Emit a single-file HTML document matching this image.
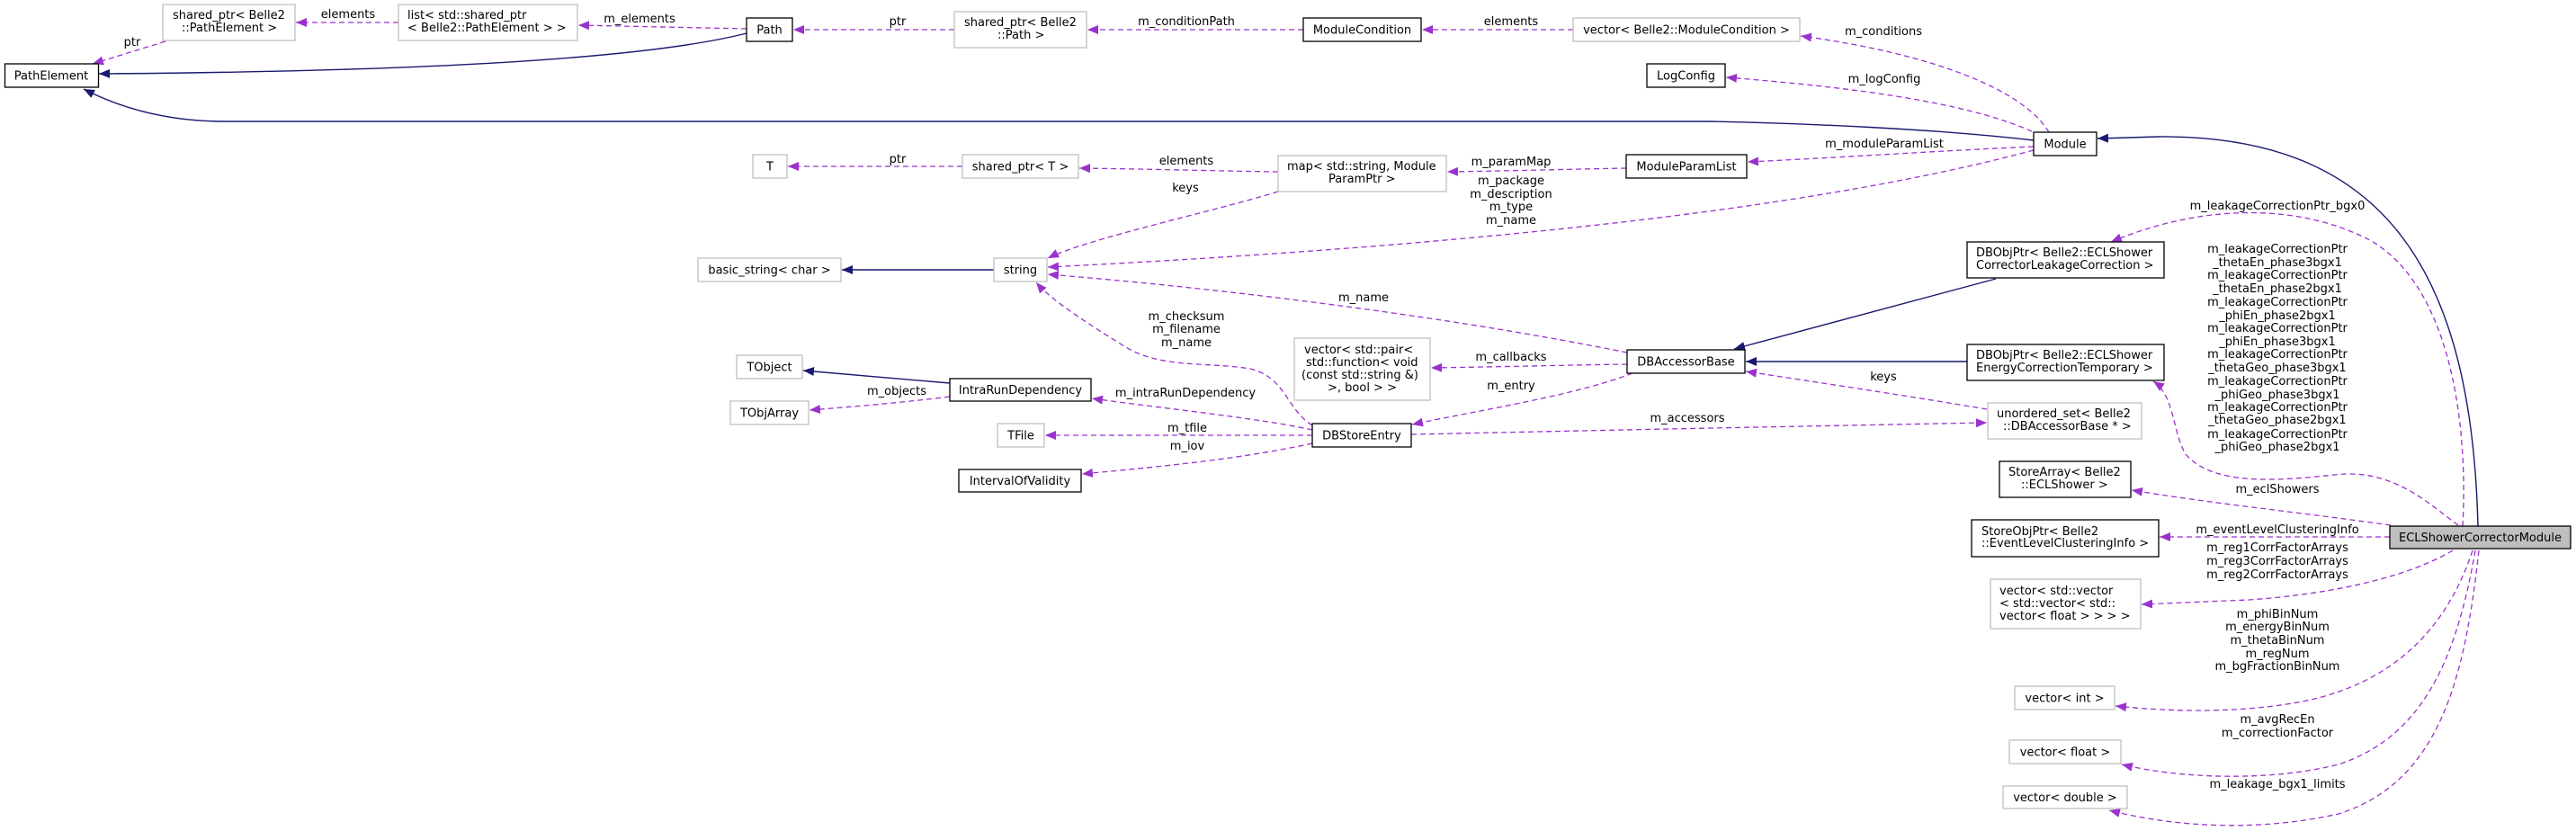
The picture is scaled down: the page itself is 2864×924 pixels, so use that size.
<!DOCTYPE html>
<html><head><meta charset="utf-8"><style>
html,body{margin:0;padding:0;background:#fff}
svg{display:block}
text{font-family:"DejaVu Sans","Liberation Sans",sans-serif;font-size:13px;fill:#000}
.g{fill:#fff;stroke:#bfbfbf;stroke-width:1.3}
.b{fill:#fff;stroke:#000;stroke-width:1.3}
.d{fill:none;stroke:#9a32cd;stroke-width:1.3;stroke-dasharray:6,4;marker-end:url(#ap)}
.s{fill:none;stroke:#191970;stroke-width:1.4;marker-end:url(#an)}
.c{text-anchor:middle}
</style></head><body>
<svg width="2864" height="924" viewBox="0 0 2864 924" xmlns="http://www.w3.org/2000/svg">
<defs>
<marker id="ap" markerUnits="userSpaceOnUse" markerWidth="14" markerHeight="12" refX="12" refY="5" orient="auto"><path d="M0,0 L12,5 L0,10 z" fill="#9a32cd"/></marker>
<marker id="an" markerUnits="userSpaceOnUse" markerWidth="14" markerHeight="12" refX="12" refY="5" orient="auto"><path d="M0,0 L12,5 L0,10 z" fill="#191970"/></marker>
</defs>

<!-- edges: inheritance -->
<path class="s" d="M830,37 C700,70 400,80 110,82"/>
<path class="s" d="M2261,156 C2150,143 2000,137 1900,135 L250,135 C180,135 130,118 93,99"/>
<path class="s" d="M2755,585 C2748,300 2650,150 2400,152 L2332,154"/>
<path class="s" d="M2219,310 L1928,388"/>
<path class="s" d="M2187,402 L1941,402"/>
<path class="s" d="M1105,300 L936,300"/>
<path class="s" d="M1056,426 L893,412"/>

<!-- edges: dependencies -->
<path class="d" d="M184,46 L103,71"/>
<path class="d" d="M443,25 L329,25"/>
<path class="d" d="M830,32 L643,28"/>
<path class="d" d="M1061,33 L882,33"/>
<path class="d" d="M1449,33 L1209,33"/>
<path class="d" d="M1749,33 L1581,33"/>
<path class="d" d="M2278,147 C2250,100 2150,60 2002,40"/>
<path class="d" d="M2259,146 C2200,120 2100,100 1919,86"/>
<path class="d" d="M2261,163 C2150,168 2050,175 1943,180"/>
<path class="d" d="M1808,187 C1750,188 1680,190 1609,191"/>
<path class="d" d="M1421,191 C1350,190 1280,188 1200,187"/>
<path class="d" d="M1070,185 L876,185"/>
<path class="d" d="M1421,213 C1350,235 1210,265 1165,287"/>
<path class="d" d="M2261,167 C2100,210 1800,265 1165,297"/>
<path class="d" d="M1809,392 C1600,350 1350,320 1165,305"/>
<path class="d" d="M1459,473 C1430,455 1430,420 1390,410 C1340,402 1290,410 1250,385 C1210,360 1170,335 1152,314"/>
<path class="d" d="M1809,405 C1740,406 1660,408 1591,409"/>
<path class="d" d="M1815,415 C1750,440 1650,455 1570,472"/>
<path class="d" d="M1459,478 C1400,465 1300,455 1214,443"/>
<path class="d" d="M1459,484 L1162,484"/>
<path class="d" d="M1459,493 C1380,510 1300,518 1203,527"/>
<path class="d" d="M1569,483 C1800,478 2000,474 2209,470"/>
<path class="d" d="M2209,455 C2120,440 2020,425 1941,413"/>
<path class="d" d="M1056,441 C1000,448 950,452 900,456"/>
<path class="d" d="M2738,585 C2745,460 2720,300 2620,260 C2540,225 2440,230 2347,269"/>
<path class="d" d="M2733,584 C2700,560 2660,520 2595,528 C2530,535 2460,540 2430,505 C2415,480 2418,440 2394,424"/>
<path class="d" d="M2658,584 C2560,570 2460,560 2370,545"/>
<path class="d" d="M2657,597 L2401,597"/>
<path class="d" d="M2727,612 C2680,640 2600,660 2500,667 L2381,672"/>
<path class="d" d="M2749,612 C2720,700 2660,760 2560,780 C2480,795 2400,790 2352,785"/>
<path class="d" d="M2752,612 C2730,740 2690,820 2600,850 C2520,870 2420,865 2359,850"/>
<path class="d" d="M2756,612 C2740,760 2710,870 2600,905 C2510,925 2420,920 2345,901"/>

<!-- nodes -->
<rect class="b" x="5.5" y="71" width="104" height="26"/><text class="c" x="57" y="88.5">PathElement</text>
<rect class="g" x="181" y="5" width="147" height="40"/><text x="192" y="21">shared_ptr&lt; Belle2</text><text x="202" y="35">::PathElement &gt;</text>
<rect class="g" x="443" y="5" width="199" height="40"/><text x="453" y="21">list&lt; std::shared_ptr</text><text x="453" y="35">&lt; Belle2::PathElement &gt; &gt;</text>
<rect class="b" x="830" y="20" width="51" height="26"/><text class="c" x="855.5" y="37.5">Path</text>
<rect class="g" x="1061" y="13" width="147" height="40"/><text x="1072" y="29">shared_ptr&lt; Belle2</text><text x="1109" y="43">::Path &gt;</text>
<rect class="b" x="1449" y="20" width="131" height="26"/><text class="c" x="1514.5" y="37.5">ModuleCondition</text>
<rect class="g" x="1749" y="20" width="252" height="26"/><text class="c" x="1875" y="37.5">vector&lt; Belle2::ModuleCondition &gt;</text>
<rect class="b" x="1831" y="71" width="87" height="26"/><text class="c" x="1874.5" y="88.5">LogConfig</text>
<rect class="b" x="2261" y="147" width="70" height="26"/><text class="c" x="2296" y="164.5">Module</text>
<rect class="g" x="837" y="172" width="38" height="26"/><text class="c" x="856" y="189.5">T</text>
<rect class="g" x="1070" y="172" width="129" height="26"/><text class="c" x="1134.5" y="189.5">shared_ptr&lt; T &gt;</text>
<rect class="g" x="1421" y="173" width="187" height="40"/><text x="1431" y="189">map&lt; std::string, Module</text><text x="1477" y="203">ParamPtr &gt;</text>
<rect class="b" x="1808" y="172" width="134" height="26"/><text class="c" x="1875" y="189.5">ModuleParamList</text>
<rect class="g" x="776" y="287" width="159" height="26"/><text class="c" x="855.5" y="304.5">basic_string&lt; char &gt;</text>
<rect class="g" x="1105" y="287" width="59" height="26"/><text class="c" x="1134.5" y="304.5">string</text>
<rect class="b" x="2187" y="269" width="219" height="40"/><text x="2197" y="285">DBObjPtr&lt; Belle2::ECLShower</text><text x="2197" y="299">CorrectorLeakageCorrection &gt;</text>
<rect class="g" x="1439" y="376" width="151" height="69"/><text x="1450" y="393">vector&lt; std::pair&lt;</text><text x="1452" y="407">std::function&lt; void</text><text x="1447" y="421">(const std::string &amp;)</text><text x="1476" y="435">&gt;, bool &gt; &gt;</text>
<rect class="b" x="1809" y="389" width="131" height="26"/><text class="c" x="1874.5" y="406.5">DBAccessorBase</text>
<rect class="b" x="2187" y="383" width="219" height="40"/><text x="2197" y="399">DBObjPtr&lt; Belle2::ECLShower</text><text x="2197" y="413">EnergyCorrectionTemporary &gt;</text>
<rect class="g" x="819" y="395" width="73" height="26"/><text class="c" x="855.5" y="412.5">TObject</text>
<rect class="b" x="1056" y="421" width="157" height="25"/><text class="c" x="1134.5" y="438">IntraRunDependency</text>
<rect class="g" x="812" y="446" width="87" height="26"/><text class="c" x="855.5" y="463.5">TObjArray</text>
<rect class="g" x="2210" y="448" width="171" height="40"/><text x="2220" y="464">unordered_set&lt; Belle2</text><text x="2227" y="478">::DBAccessorBase * &gt;</text>
<rect class="g" x="1109" y="471" width="52" height="26"/><text class="c" x="1135" y="488.5">TFile</text>
<rect class="b" x="1459" y="471" width="110" height="26"/><text class="c" x="1514" y="488.5">DBStoreEntry</text>
<rect class="b" x="1066" y="522" width="136" height="25"/><text class="c" x="1134" y="539">IntervalOfValidity</text>
<rect class="b" x="2223" y="513" width="146" height="40"/><text x="2233" y="529">StoreArray&lt; Belle2</text><text x="2247" y="543">::ECLShower &gt;</text>
<rect class="b" x="2192" y="578" width="208" height="41"/><text x="2203" y="595">StoreObjPtr&lt; Belle2</text><text x="2203" y="608">::EventLevelClusteringInfo &gt;</text>
<rect fill="#bfbfbf" stroke="#000" stroke-width="1.3" x="2657" y="585" width="201" height="25"/><text class="c" x="2757.5" y="602">ECLShowerCorrectorModule</text>
<rect class="g" x="2213" y="644" width="167" height="55"/><text x="2223" y="661">vector&lt; std::vector</text><text x="2223" y="675">&lt; std::vector&lt; std::</text><text x="2223" y="689">vector&lt; float &gt; &gt; &gt; &gt;</text>
<rect class="g" x="2240" y="763" width="111" height="26"/><text class="c" x="2295.5" y="780.5">vector&lt; int &gt;</text>
<rect class="g" x="2234" y="823" width="124" height="26"/><text class="c" x="2296" y="840.5">vector&lt; float &gt;</text>
<rect class="g" x="2227" y="874" width="138" height="25"/><text class="c" x="2296" y="891">vector&lt; double &gt;</text>

<!-- edge labels -->
<g class="c">
<text x="147" y="51">ptr</text>
<text x="387" y="20">elements</text>
<text x="711" y="25">m_elements</text>
<text x="998" y="28">ptr</text>
<text x="1319" y="28">m_conditionPath</text>
<text x="1680" y="28">elements</text>
<text x="2094" y="39">m_conditions</text>
<text x="2095" y="92">m_logConfig</text>
<text x="2095" y="164">m_moduleParamList</text>
<text x="998" y="181">ptr</text>
<text x="1319" y="183">elements</text>
<text x="1318" y="213">keys</text>
<text x="1680" y="184">m_paramMap</text>
<text x="1680" y="205">m_package</text>
<text x="1680" y="220">m_description</text>
<text x="1680" y="234">m_type</text>
<text x="1680" y="249">m_name</text>
<text x="1516" y="335">m_name</text>
<text x="1319" y="356">m_checksum</text>
<text x="1319" y="370">m_filename</text>
<text x="1319" y="385">m_name</text>
<text x="1680" y="401">m_callbacks</text>
<text x="1680" y="433">m_entry</text>
<text x="1318" y="441">m_intraRunDependency</text>
<text x="997" y="439">m_objects</text>
<text x="2094" y="423">keys</text>
<text x="1320" y="480">m_tfile</text>
<text x="1320" y="500">m_iov</text>
<text x="1876" y="469">m_accessors</text>
<text x="2532" y="233">m_leakageCorrectionPtr_bgx0</text>
<text x="2532" y="281">m_leakageCorrectionPtr</text>
<text x="2532" y="296">_thetaEn_phase3bgx1</text>
<text x="2532" y="310">m_leakageCorrectionPtr</text>
<text x="2532" y="325">_thetaEn_phase2bgx1</text>
<text x="2532" y="340">m_leakageCorrectionPtr</text>
<text x="2532" y="355">_phiEn_phase2bgx1</text>
<text x="2532" y="369">m_leakageCorrectionPtr</text>
<text x="2532" y="384">_phiEn_phase3bgx1</text>
<text x="2532" y="398">m_leakageCorrectionPtr</text>
<text x="2532" y="413">_thetaGeo_phase3bgx1</text>
<text x="2532" y="428">m_leakageCorrectionPtr</text>
<text x="2532" y="443">_phiGeo_phase3bgx1</text>
<text x="2532" y="457">m_leakageCorrectionPtr</text>
<text x="2532" y="471">_thetaGeo_phase2bgx1</text>
<text x="2532" y="487">m_leakageCorrectionPtr</text>
<text x="2532" y="501">_phiGeo_phase2bgx1</text>
<text x="2532" y="548">m_eclShowers</text>
<text x="2532" y="593">m_eventLevelClusteringInfo</text>
<text x="2532" y="613">m_reg1CorrFactorArrays</text>
<text x="2532" y="628">m_reg3CorrFactorArrays</text>
<text x="2532" y="643">m_reg2CorrFactorArrays</text>
<text x="2532" y="687">m_phiBinNum</text>
<text x="2532" y="701">m_energyBinNum</text>
<text x="2532" y="716">m_thetaBinNum</text>
<text x="2532" y="731">m_regNum</text>
<text x="2532" y="745">m_bgFractionBinNum</text>
<text x="2532" y="804">m_avgRecEn</text>
<text x="2532" y="819">m_correctionFactor</text>
<text x="2532" y="876">m_leakage_bgx1_limits</text>
</g>
</svg>
</body></html>
